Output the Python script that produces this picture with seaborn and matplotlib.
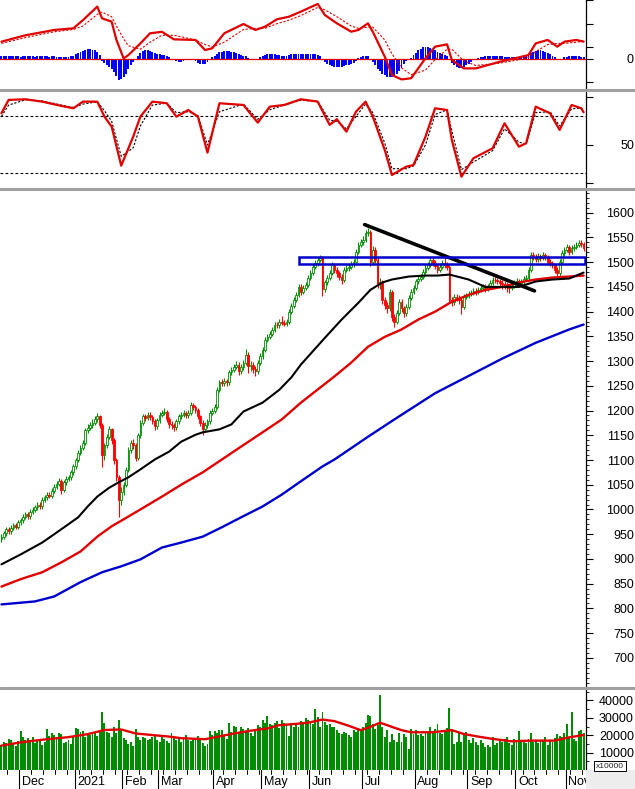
import numpy as np
import matplotlib
matplotlib.use("Agg")
import matplotlib.pyplot as plt
import seaborn as sns
from matplotlib.ticker import FixedLocator, MultipleLocator
from matplotlib.lines import Line2D
from matplotlib.patches import Rectangle

# ---------------- DATA ----------------
close = [945, 952, 960, 956, 963, 968, 965, 974, 978, 985,
         990, 986, 995, 999, 1004, 1010, 1006, 1020, 1025, 1030,
         1028, 1038, 1046, 1052, 1057, 1040, 1055, 1062, 1065, 1075,
         1087, 1100, 1115, 1125, 1135, 1160, 1165, 1170, 1175, 1182,
         1188, 1170, 1110, 1130, 1147, 1162, 1140, 1100, 1065, 1020,
         1035, 1050, 1080, 1121, 1135, 1130, 1105, 1150, 1175, 1188,
         1185, 1192, 1186, 1178, 1168, 1180, 1192, 1195, 1198, 1182,
         1172, 1170, 1166, 1178, 1188, 1192, 1196, 1190, 1196, 1212,
         1208, 1202, 1188, 1175, 1162, 1170, 1178, 1196, 1200, 1208,
         1242, 1257, 1255, 1259, 1257, 1277, 1282, 1289, 1293, 1279,
         1288, 1297, 1313, 1290, 1293, 1285, 1279, 1297, 1310, 1323,
         1343, 1349, 1355, 1363, 1374, 1372, 1380, 1378, 1376, 1380,
         1400, 1412, 1424, 1434, 1450, 1440, 1448, 1454, 1468, 1479,
         1491, 1498, 1505, 1509, 1445, 1459, 1468, 1479, 1495, 1485,
         1478, 1471, 1465, 1485, 1488, 1491, 1496, 1501, 1521, 1535,
         1540, 1545, 1560, 1562, 1500, 1525, 1505, 1455, 1460, 1424,
         1414, 1408, 1440, 1390, 1380, 1398, 1420, 1408, 1398, 1410,
         1428, 1440, 1448, 1461, 1466, 1471, 1481, 1489, 1495, 1505,
         1499, 1492, 1485, 1491, 1498, 1495, 1490, 1424, 1420, 1430,
         1428, 1424, 1410, 1430, 1432, 1436, 1438, 1442, 1440, 1444,
         1448, 1450, 1446, 1450, 1458, 1465, 1463, 1461, 1458, 1456,
         1454, 1450, 1448, 1452, 1459, 1462, 1458, 1461, 1466, 1469,
         1485, 1515, 1511, 1506, 1512, 1509, 1514, 1511, 1501, 1498,
         1495, 1485, 1478, 1500, 1518, 1525, 1531, 1521, 1528, 1531,
         1535, 1539, 1536, 1529]

open_ = [940, 945, 952, 960, 956, 963, 968, 965, 974, 978,
         985, 990, 986, 995, 999, 1004, 1010, 1006, 1020, 1025,
         1030, 1028, 1038, 1046, 1052, 1057, 1040, 1055, 1062, 1065,
         1075, 1087, 1100, 1115, 1125, 1135, 1160, 1165, 1170, 1175,
         1182, 1188, 1170, 1110, 1130, 1147, 1162, 1140, 1100, 1065,
         1020, 1035, 1050, 1080, 1121, 1135, 1130, 1105, 1150, 1175,
         1188, 1185, 1192, 1186, 1178, 1168, 1180, 1192, 1195, 1198,
         1182, 1172, 1170, 1166, 1178, 1188, 1192, 1196, 1190, 1196,
         1212, 1208, 1202, 1188, 1175, 1162, 1170, 1178, 1196, 1200,
         1208, 1242, 1257, 1255, 1259, 1257, 1277, 1282, 1289, 1293,
         1279, 1288, 1297, 1313, 1290, 1293, 1285, 1279, 1297, 1310,
         1323, 1343, 1349, 1355, 1363, 1374, 1372, 1380, 1378, 1376,
         1380, 1400, 1412, 1424, 1434, 1450, 1440, 1448, 1454, 1468,
         1479, 1491, 1498, 1505, 1509, 1445, 1459, 1468, 1479, 1495,
         1485, 1478, 1471, 1465, 1485, 1488, 1491, 1496, 1501, 1521,
         1535, 1540, 1545, 1560, 1562, 1500, 1525, 1505, 1455, 1460,
         1424, 1414, 1408, 1440, 1390, 1380, 1398, 1420, 1408, 1398,
         1410, 1428, 1440, 1448, 1461, 1466, 1471, 1481, 1489, 1495,
         1505, 1499, 1492, 1485, 1491, 1498, 1495, 1490, 1424, 1420,
         1430, 1428, 1424, 1410, 1430, 1432, 1436, 1438, 1442, 1440,
         1444, 1448, 1450, 1446, 1450, 1458, 1465, 1463, 1461, 1458,
         1456, 1454, 1450, 1448, 1452, 1459, 1462, 1458, 1461, 1466,
         1469, 1485, 1515, 1511, 1506, 1512, 1509, 1514, 1511, 1501,
         1498, 1495, 1485, 1478, 1500, 1518, 1525, 1531, 1521, 1528,
         1531, 1535, 1539, 1536]

high = [950, 957, 965, 965, 968, 973, 973, 979, 983, 990,
        995, 995, 1000, 1004, 1009, 1015, 1015, 1025, 1030, 1035,
        1035, 1043, 1051, 1057, 1064, 1062, 1060, 1067, 1070, 1080,
        1092, 1105, 1120, 1130, 1140, 1165, 1172, 1176, 1182, 1188,
        1195, 1192, 1175, 1135, 1152, 1168, 1165, 1145, 1105, 1070,
        1045, 1056, 1085, 1126, 1140, 1142, 1135, 1155, 1180, 1194,
        1193, 1198, 1197, 1190, 1182, 1185, 1198, 1202, 1205, 1202,
        1186, 1178, 1175, 1183, 1193, 1198, 1202, 1200, 1202, 1218,
        1216, 1212, 1206, 1192, 1180, 1176, 1183, 1201, 1206, 1214,
        1247, 1262, 1263, 1265, 1264, 1282, 1288, 1295, 1300, 1298,
        1294, 1303, 1325, 1318, 1300, 1298, 1290, 1302, 1316, 1329,
        1348, 1355, 1361, 1369, 1380, 1380, 1386, 1392, 1384, 1386,
        1405, 1418, 1430, 1440, 1456, 1455, 1454, 1460, 1474, 1485,
        1497, 1504, 1511, 1515, 1512, 1465, 1474, 1485, 1501, 1499,
        1490, 1483, 1476, 1490, 1494, 1497, 1502, 1507, 1527, 1541,
        1546, 1552, 1566, 1570, 1565, 1532, 1530, 1510, 1468, 1464,
        1430, 1420, 1446, 1444, 1396, 1404, 1426, 1425, 1412, 1416,
        1434, 1446, 1454, 1467, 1472, 1477, 1487, 1495, 1501, 1511,
        1510, 1504, 1497, 1497, 1504, 1510, 1500, 1494, 1430, 1436,
        1435, 1433, 1428, 1436, 1438, 1442, 1444, 1448, 1447, 1450,
        1454, 1456, 1455, 1456, 1464, 1471, 1470, 1468, 1466, 1463,
        1461, 1459, 1455, 1458, 1465, 1468, 1467, 1467, 1472, 1475,
        1491, 1521, 1520, 1516, 1518, 1517, 1520, 1519, 1515, 1506,
        1503, 1499, 1490, 1506, 1524, 1531, 1537, 1535, 1534, 1537,
        1541, 1545, 1544, 1540]

low = [935, 940, 947, 950, 951, 958, 960, 960, 969, 973,
       980, 981, 981, 990, 994, 999, 1001, 1001, 1015, 1020,
       1023, 1023, 1033, 1041, 1047, 1032, 1035, 1050, 1057, 1060,
       1070, 1082, 1095, 1110, 1120, 1130, 1155, 1160, 1165, 1170,
       1177, 1165, 1085, 1100, 1125, 1142, 1132, 1092, 1058, 984,
       1010, 1030, 1045, 1075, 1115, 1122, 1098, 1100, 1145, 1170,
       1178, 1180, 1180, 1172, 1160, 1163, 1175, 1187, 1190, 1176,
       1165, 1163, 1158, 1161, 1173, 1183, 1187, 1184, 1185, 1191,
       1202, 1196, 1182, 1168, 1150, 1156, 1164, 1173, 1190, 1195,
       1203, 1237, 1249, 1250, 1250, 1252, 1272, 1277, 1284, 1272,
       1274, 1283, 1292, 1275, 1280, 1276, 1270, 1274, 1292, 1305,
       1318, 1338, 1344, 1350, 1358, 1366, 1367, 1372, 1370, 1371,
       1375, 1395, 1407, 1419, 1429, 1434, 1435, 1443, 1449, 1463,
       1474, 1486, 1493, 1500, 1432, 1440, 1454, 1463, 1474, 1479,
       1470, 1464, 1455, 1460, 1480, 1483, 1486, 1491, 1496, 1516,
       1530, 1535, 1540, 1552, 1492, 1495, 1498, 1448, 1445, 1416,
       1405, 1398, 1402, 1382, 1368, 1375, 1393, 1400, 1390, 1392,
       1405, 1423, 1435, 1443, 1456, 1461, 1466, 1476, 1484, 1490,
       1493, 1486, 1478, 1480, 1486, 1489, 1484, 1418, 1412, 1414,
       1421, 1416, 1396, 1405, 1425, 1427, 1431, 1433, 1434, 1435,
       1439, 1443, 1440, 1441, 1445, 1453, 1457, 1455, 1452, 1446,
       1445, 1440, 1438, 1443, 1447, 1454, 1450, 1452, 1456, 1461,
       1464, 1480, 1505, 1500, 1501, 1503, 1504, 1505, 1495, 1492,
       1489, 1478, 1470, 1473, 1495, 1513, 1520, 1515, 1516, 1523,
       1526, 1530, 1530, 1522]

volume = [14300, 16000, 15500, 18000, 17000, 15000, 14000, 16500, 22500, 19000,
          17000, 18500, 16000, 19000, 15500, 16500, 17000, 14500, 16000, 23500,
          19500, 21000, 20000, 18000, 21000, 20500, 15500, 16000, 17500, 15000,
          19000, 24000, 23500, 22000, 22500, 19000, 21500, 20000, 22000, 21500,
          19500, 23000, 33500, 27300, 22000, 21000, 19000, 25000, 21500, 29000,
          23700, 18500, 17000, 15000, 16000, 14000, 23500, 19000, 17500, 19000,
          18500, 17000, 18000, 19000, 20000, 17500, 16000, 19500, 18000, 16500,
          15500, 21000, 18500, 17500, 19000, 16000, 18000, 20000, 17500, 16500,
          18000, 17000, 19500, 17500, 15500, 14000, 15000, 22500, 20000, 22500,
          21500, 22800, 23000, 20000, 18000, 27300, 22000, 25500, 24500, 21000,
          25000, 23500, 22000, 24000, 21000, 19500, 23000, 26000, 25000, 28700,
          27000, 31000, 26500, 26000, 27000, 28400, 24000, 28900, 27000, 26000,
          19600, 27300, 24500, 26500, 25000, 28000, 27000, 30000, 29000, 27500,
          26500, 34800, 30500, 25000, 33500, 27500, 26000, 26500, 25000, 24500,
          23000, 21000, 20500, 22000, 21500, 20000, 18800, 22800, 21800, 24000,
          23500, 24500, 27000, 31500, 31000, 26500, 23700, 26000, 43000, 25000,
          19000, 22800, 16000, 20900, 17500, 16200, 21000, 16200, 20900, 19000,
          12000, 23700, 20900, 22800, 20000, 20900, 19500, 22000, 21000, 25000,
          22000, 23700, 26500, 21000, 20900, 22500, 24000, 35700, 22800, 15200,
          16200, 21800, 16200, 20900, 21800, 17200, 15300, 18500, 16200, 14300,
          17000, 15500, 13400, 14500, 13400, 19000, 14300, 15300, 17200, 16000,
          18000, 19000, 15500, 14500, 18000, 16500, 22200, 17200, 16200, 15500,
          18000, 21300, 16200, 17500, 15300, 17000, 17200, 19000, 14500, 17200,
          16200, 18500, 20900, 19500, 19000, 21000, 26600, 19000, 33500, 18000,
          16500, 22200, 23000, 21000]

macd_hist = [2, 2, 2.5, 2, 2, 2.5, 2, 2, 1.5, 2,
             2, 2.5, 2, 2, 1.5, 2, 2, 2.5, 2, 2,
             1.5, 2, 2, 1.5, 1.5, 1, 1.5, 1, 1.5, 2,
             2.5, 3.5, 4.5, 5.5, 6.5, 7.5, 8, 8, 7.5, 7,
             6, 3, -2, -4, -6, -7, -9, -12, -15, -18.5,
             -18, -16, -13, -9, -6, -3, -1, 2, 4.5, 6.5,
             7, 7, 6.5, 6, 5, 4, 3.5, 3, 3, 2,
             1, 0, -1.5, -2.5, -3, -3, -2.5, -1.5, -0.5, 0,
             -0.5, -2, -3.5, -4.5, -5, -4.5, -3, -1, 1, 2.5,
             4, 5.5, 6, 6.5, 6.5, 6.5, 6, 5.5, 5, 4,
             3, 2.5, 2, 0.5, -0.5, -1, -1.5, -0.5, 1, 2,
             3, 3.5, 3.5, 3.5, 3.5, 3, 3, 2.5, 2, 2,
             3, 3.5, 4, 4, 4, 4, 3.5, 3.5, 3.5, 3.5,
             4, 3.5, 3, 2, -1, -3, -4.5, -5.5, -6.5, -7,
             -7, -7, -7, -6.5, -6, -5.5, -5, -4, -2, 0.5,
             1.5, 2, 2.5, 2, -1, -3, -6, -9, -11, -13,
             -14.5, -15.5, -15.5, -15.5, -15, -13, -11, -8, -5, -2.5,
             -1, 0.5, 3, 5, 7, 8.5, 9.5, 10, 9.5, 9,
             8, 7, 6, 5, 4, 3, 2, -1.5, -4, -6,
             -7.5, -8, -8, -7, -6, -4.5, -3, -1.5, -0.5, 0.5,
             1, 1.5, 2, 2, 2.5, 2.5, 2.5, 2.5, 2, 2,
             1.5, 1.5, 1, 1, 1, 1, 1, 1, 1.5, 2,
             3, 4.5, 5.5, 6.5, 7, 7, 6.5, 6, 5, 4,
             2.5, 1, -0.5, -1, 0, 1, 1.5, 2, 2, 2,
             2, 2, 1.5, 1.5]

macd_x = [0, 10, 22, 30, 34, 40, 42, 46, 48, 51, 53, 58, 62, 67, 72, 81, 85, 88, 93,
          101, 106, 110, 115, 120, 125, 132, 135, 140, 146, 149, 153, 155, 160, 163,
          167, 171, 177, 181, 186, 188, 193, 198, 208, 216, 220, 223, 228, 232, 235,
          240, 243]
macd_line = [14.5, 20, 24.6, 26, 33, 44.7, 34.6, 31.7, 16, 0, 3, 13, 21.7, 23, 16.5,
             16, 7.3, 8.8, 21.7, 29.7, 24.6, 27.4, 33.8, 36, 40.4, 47, 37.5, 30.3, 23.1,
             24.6, 30.3, 23.1, 1.6, -14.2, -18, -17, 0.2, 10.2, 12.2, -1.3, -8.5, -8.5,
             -2.8, 1, 3, 13, 16, 10.2, 14.5, 16, 14.5]
macd_signal = [13, 18, 23, 25, 28, 38, 40, 36, 28, 17, 11, 8, 14, 20, 20, 16, 12, 10,
               14, 25, 26, 26, 30, 33, 37, 44, 42, 36, 28, 26, 27, 27, 16, 4, -8, -14,
               -10, -1, 8, 8, -2, -6, -4, -1, 1, 6, 12, 13, 13, 14, 15]

stoch_x = [0, 3, 10, 17, 25, 30, 34, 40, 43, 46, 50, 55, 58, 63, 69, 73, 78, 82, 86,
           91, 101, 107, 112, 118, 125, 132, 137, 140, 144, 148, 152, 155, 160, 163,
           169, 172, 177, 181, 186, 188, 192, 197, 205, 210, 216, 219, 223, 229, 233,
           238, 242, 243]
stoch_k = [83.4, 97.4, 98.1, 95.6, 91.1, 88.6, 95.6, 95.6, 79.8, 69.3, 28.2, 58.7,
           79.8, 95.6, 93.9, 79.8, 86.8, 79.8, 41.9, 93.9, 92.1, 73.5, 90.3, 92.1,
           98.1, 95.6, 71.1, 77.1, 64, 85.1, 95.6, 79.8, 44.7, 18.4, 27.2, 28.9, 58.7,
           88.6, 86.8, 55.3, 16.6, 36, 46.5, 72.8, 48.2, 51.8, 90.3, 83.4, 65.8, 92.1,
           88.6, 84.4]
stoch_d = [80, 92, 97.5, 96.5, 92, 89.5, 93, 95.5, 86, 75, 38, 47, 70, 92, 94, 84, 85,
           81, 50, 85, 93, 77, 87, 92, 97, 96, 76, 75, 67, 80, 93, 84, 52, 25, 25, 28,
           50, 82, 87, 65, 24, 32, 44, 67, 53, 51, 84, 85, 70, 88, 89, 86]
stoch_levels = [20, 80]

ma_black_x = [0, 8, 17, 25, 32, 36, 40, 45, 49, 53, 58, 64, 70, 75, 81, 84, 91, 96, 101,
              109, 116, 121, 125, 135, 142, 149, 154, 159, 163, 170, 177, 182, 187, 195,
              202, 209, 216, 223, 230, 237, 241, 243]
ma_black = [889, 909, 933, 960, 984, 1006, 1026, 1044, 1055, 1065, 1081, 1101, 1117,
            1137, 1151, 1156, 1162, 1172, 1198, 1216, 1242, 1267, 1293, 1347, 1384,
            1418, 1444, 1459, 1465, 1471, 1473, 1473, 1475, 1465, 1450, 1450, 1450,
            1461, 1465, 1467, 1475, 1479]
ma_red_x = [0, 8, 17, 25, 33, 40, 46, 51, 58, 67, 75, 84, 92, 100, 109, 117, 125, 139,
            146, 153, 160, 167, 174, 181, 188, 195, 202, 209, 216, 223, 230, 237, 243]
ma_red = [844, 859, 873, 893, 915, 945, 966, 980, 1000, 1026, 1050, 1075, 1101, 1127,
          1156, 1182, 1216, 1269, 1297, 1329, 1349, 1364, 1384, 1400, 1420, 1434, 1444,
          1450, 1459, 1465, 1469, 1471, 1473]
ma_blue_x = [0, 14, 22, 33, 42, 50, 58, 67, 75, 84, 92, 100, 109, 117, 125, 134, 139,
             153, 164, 181, 195, 209, 223, 237, 243]
ma_blue = [808, 814, 824, 853, 873, 885, 899, 923, 933, 945, 964, 984, 1006, 1030, 1057,
           1087, 1101, 1147, 1182, 1235, 1270, 1305, 1337, 1364, 1374]

trend_x = [151.6, 222.5]
trend_y = [1576, 1442]
zone_x = [124.4, 243.4]
zone_y = [1497, 1511]

vol_ma_x = [0, 8, 17, 28, 36, 43, 50, 56, 63, 70, 75, 85, 92, 97, 104, 111, 116, 122,
            128, 134, 139, 145, 150, 154, 158, 163, 167, 171, 180, 188, 193, 199, 205,
            213, 221, 231, 237, 243]
vol_ma = [14000, 15900, 17400, 18900, 20600, 23000, 23300, 21000, 20100, 19200, 18300,
          17700, 19600, 21000, 22600, 23900, 25800, 26400, 27200, 29000, 28100, 25400,
          22900, 24800, 27200, 24800, 22900, 21700, 21700, 22900, 20700, 19200, 17900,
          16500, 16900, 16900, 18800, 20100]

month_labels = ["Dec", "2021", "Feb", "Mar", "Apr", "May", "Jun", "Jul", "Aug", "Sep", "Oct", "Nov"]
month_start = [8, 31, 51, 66, 89, 109, 129, 151, 173, 195, 215, 236]
price_ticks = list(range(700, 1601, 50))
vol_ticks = [10000, 20000, 30000, 40000]

# ---------------- STYLE ----------------
sns.set_theme(style="white")
plt.rcParams["font.family"] = ["Liberation Sans", "DejaVu Sans"]

W, H = 635, 789
GREEN = "#008C00"
RED = "#FF0000"
MARED = "#E00000"
BLUE = "#0000CC"
XLIM = (-0.6, 244.0)


def rect(x0, y0, x1, y1):
    return [x0 / W, 1 - y1 / H, (x1 - x0) / W, (y1 - y0) / H]


fig = plt.figure(figsize=(W / 100, H / 100), dpi=100)
fig.patch.set_facecolor("white")

pad_pt = 29.5


def style_axis(ax):
    for s in ["left", "top", "bottom"]:
        ax.spines[s].set_visible(False)
    ax.spines["right"].set_visible(True)
    ax.spines["right"].set_color("black")
    ax.spines["right"].set_linewidth(0.9)
    ax.set_xlim(*XLIM)
    ax.set_xticks([])
    ax.set_xlabel("")
    ax.set_ylabel("")
    ax.yaxis.tick_right()
    ax.tick_params(axis="y", which="major", direction="out", length=5, width=0.8,
                   colors="black", labelsize=9, pad=pad_pt, right=True, left=False)
    ax.tick_params(axis="y", which="minor", direction="out", length=2.5, width=0.6,
                   colors="black", right=True, left=False)
    ax.set_facecolor("white")


idx = np.arange(len(close))
c = np.array(close, dtype=float)
o = np.array(open_, dtype=float)
hi = np.array(high, dtype=float)
lo = np.array(low, dtype=float)
up = c >= o
cols = np.where(up, GREEN, RED)

# ---- price panel ----
ax_p = fig.add_axes(rect(0, 190, 586, 686))
ax_p.vlines(idx, lo, hi, colors=cols, linewidth=0.8, zorder=2)
body_b = np.minimum(o, c)
body_h = np.maximum(np.abs(c - o), 1.0)
ax_p.bar(idx, body_h, bottom=body_b, width=0.72,
         facecolor=np.where(up, "white", RED), edgecolor=cols, linewidth=0.6, zorder=3)
sns.lineplot(x=ma_blue_x, y=ma_blue, color=BLUE, linewidth=1.7, ax=ax_p, zorder=4)
sns.lineplot(x=ma_red_x, y=ma_red, color=MARED, linewidth=1.7, ax=ax_p, zorder=4)
sns.lineplot(x=ma_black_x, y=ma_black, color="black", linewidth=1.5, ax=ax_p, zorder=4)
sns.lineplot(x=trend_x, y=trend_y, color="black", linewidth=2.6, ax=ax_p, zorder=5)
ax_p.add_patch(Rectangle((zone_x[0], zone_y[0]), zone_x[1] - zone_x[0], zone_y[1] - zone_y[0],
                         fill=False, edgecolor=BLUE, linewidth=1.8, zorder=5))
ax_p.set_ylim(643, 1646)
style_axis(ax_p)
ax_p.yaxis.set_major_locator(FixedLocator(price_ticks))
ax_p.set_yticklabels([str(t) for t in price_ticks])
ax_p.yaxis.set_minor_locator(MultipleLocator(10))

# ---- MACD panel ----
ax_m = fig.add_axes(rect(0, 0, 586, 88))
sns.barplot(x=idx, y=macd_hist, native_scale=True, color="#0000FF", saturation=1,
            width=0.8, linewidth=0, errorbar=None, ax=ax_m, zorder=2)
ax_m.axhline(0, color=MARED, linewidth=0.9, zorder=3)
sns.lineplot(x=macd_x, y=macd_signal, color=MARED, linewidth=0.8, linestyle=(0, (2, 1.5)),
             ax=ax_m, zorder=4)
sns.lineplot(x=macd_x, y=macd_line, color=MARED, linewidth=1.6, ax=ax_m, zorder=5)
ax_m.set_ylim(-25.4, 50.4)
style_axis(ax_m)
ax_m.yaxis.set_major_locator(FixedLocator([0]))
ax_m.set_yticklabels(["0"])
ax_m.yaxis.set_minor_locator(FixedLocator([-20, 10, 30, 50]))
ax_m.tick_params(axis="y", which="minor", length=5, width=0.8)

# ---- Stochastic panel ----
ax_s = fig.add_axes(rect(0, 91, 586, 188))
for lv in stoch_levels:
    ax_s.axhline(lv, color="black", linewidth=0.8, linestyle=(0, (2.5, 2)), zorder=1)
sns.lineplot(x=stoch_x, y=stoch_d, color="black", linewidth=0.8, linestyle=(0, (2, 1.5)),
             ax=ax_s, zorder=3)
sns.lineplot(x=stoch_x, y=stoch_k, color=MARED, linewidth=1.6, ax=ax_s, zorder=4)
ax_s.set_ylim(4.7, 106.8)
style_axis(ax_s)
ax_s.yaxis.set_major_locator(FixedLocator([50]))
ax_s.set_yticklabels(["50"])
ax_s.yaxis.set_minor_locator(FixedLocator([10, 100]))
ax_s.tick_params(axis="y", which="minor", length=5, width=0.8)

# ---- Volume panel ----
ax_v = fig.add_axes(rect(0, 690, 586, 770))
sns.barplot(x=idx, y=volume, native_scale=True, color=GREEN, saturation=1,
            width=0.8, linewidth=0, errorbar=None, ax=ax_v, zorder=2)
sns.lineplot(x=vol_ma_x, y=vol_ma, color=MARED, linewidth=1.7, ax=ax_v, zorder=4)
ax_v.set_ylim(0, 46000)
style_axis(ax_v)
ax_v.yaxis.set_major_locator(FixedLocator(vol_ticks))
ax_v.set_yticklabels([str(t) for t in vol_ticks])
ax_v.yaxis.set_minor_locator(MultipleLocator(5000))

for ax in [ax_p, ax_m, ax_s, ax_v]:
    for lab in ax.get_yticklabels():
        lab.set_horizontalalignment("right")
    if ax.get_legend() is not None:
        ax.get_legend().remove()

# ---- date strip ----
ax_d = fig.add_axes(rect(0, 770, 586, 789))
ax_d.set_xlim(*XLIM)
ax_d.set_ylim(0, 1)
ax_d.axis("off")
for ms, lab in zip(month_start, month_labels):
    ax_d.plot([ms - 0.5, ms - 0.5], [0.0, 1.0], color="black", linewidth=0.8)
    ax_d.text(ms + 0.6, 0.38, lab, ha="left", va="center", fontsize=9, color="black")
for k in range(3, 244, 5):
    ax_d.plot([k - 0.5, k - 0.5], [0.78, 1.0], color="black", linewidth=0.7)

# ---- separators and frame decorations ----
for ysep in [89.5, 189.0, 688.0]:
    fig.add_artist(Line2D([0, 1], [1 - ysep / H, 1 - ysep / H], transform=fig.transFigure,
                          color="#A0A0A0", linewidth=2.2))
fig.add_artist(Rectangle((586 / W, 0), (W - 586) / W, 19 / H, transform=fig.transFigure,
                         facecolor="#EDEDED", edgecolor="none"))
fig.text(610 / W, 1 - 766 / H, "x10000", fontsize=6, ha="center", va="center",
         bbox=dict(boxstyle="square,pad=0.2", facecolor="white", edgecolor="black", linewidth=0.7))

fig.savefig("out.png", dpi=100, facecolor="white")
